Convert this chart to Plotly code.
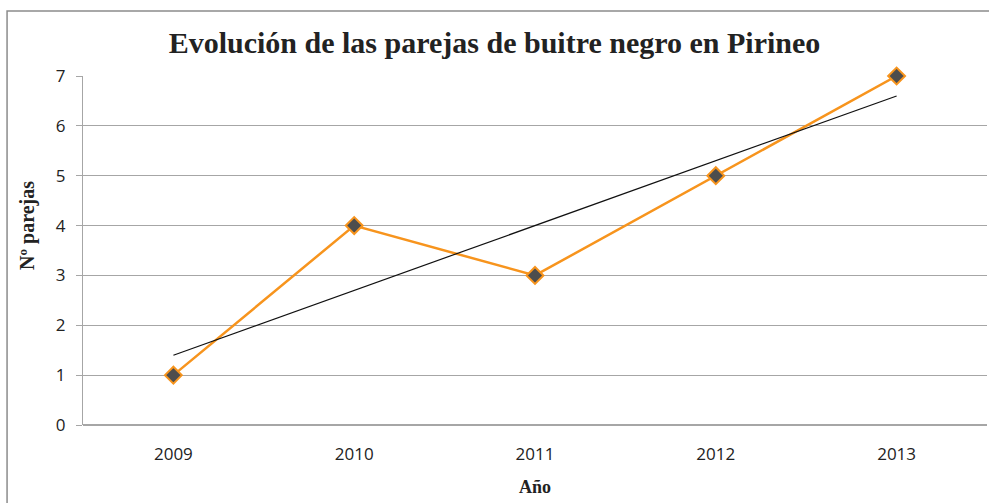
import plotly.graph_objects as go

anios = ['2009', '2010', '2011', '2012', '2013']
parejas = [1, 4, 3, 5, 7]
tendencia_x = ['2009', '2013']
tendencia_y = [1.4, 6.6]

serif = 'Liberation Serif, DejaVu Serif, serif'

fig = go.Figure()

fig.add_trace(go.Scatter(
    x=anios,
    y=parejas,
    mode='lines+markers',
    line=dict(color='#f7941d', width=2.5),
    marker=dict(symbol='diamond', size=13, color='#4d4d4d',
                line=dict(color='#f7941d', width=2)),
    cliponaxis=False,
    showlegend=False
))

fig.add_trace(go.Scatter(
    x=tendencia_x,
    y=tendencia_y,
    mode='lines',
    line=dict(color='#111111', width=1.2),
    showlegend=False
))

fig.update_layout(
    width=989,
    height=503,
    margin=dict(l=83, r=2, t=76, b=78),
    paper_bgcolor='#ffffff',
    plot_bgcolor='#ffffff',
    font=dict(family='Open Sans, Liberation Sans, sans-serif', size=17, color='#222222'),
    title=dict(
        text='<b>Evolución de las parejas de buitre negro en Pirineo</b>',
        font=dict(family=serif, size=30, color='#222222'),
        x=0.5, xanchor='center', y=0.915, yanchor='middle'
    ),
    xaxis=dict(
        type='category',
        range=[-0.5, 4.5],
        automargin=False,
        showgrid=False,
        showline=False,
        ticks='',
        ticklabelstandoff=17,
        tickfont=dict(size=17)
    ),
    yaxis=dict(
        range=[0, 7],
        dtick=1,
        automargin=False,
        showgrid=True,
        gridcolor='#a6a6a6',
        gridwidth=1,
        showline=True,
        linecolor='#a6a6a6',
        ticks='outside',
        ticklen=6,
        tickcolor='#a6a6a6',
        ticklabelstandoff=7,
        zeroline=True,
        zerolinecolor='#a6a6a6',
        tickfont=dict(size=17)
    ),
    annotations=[
        dict(text='<b>Nº parejas</b>', xref='paper', yref='paper',
             x=-0.062, y=0.573, textangle=-90, showarrow=False,
             xanchor='center', yanchor='middle',
             font=dict(family=serif, size=20, color='#222222')),
        dict(text='<b>Año</b>', xref='paper', yref='paper',
             x=0.5, y=-0.178, showarrow=False,
             xanchor='center', yanchor='middle',
             font=dict(family=serif, size=18, color='#222222'))
    ],
    shapes=[dict(
        type='rect', xref='paper', yref='paper',
        x0=-0.084, x1=1.2, y0=-0.4, y1=1.186,
        line=dict(color='#8c8c8c', width=1.5),
        fillcolor='rgba(0,0,0,0)', layer='below'
    )]
)

# quitar el margen por defecto del body para que el grafico ocupe la ventana
fig.write_html('out.html',
               config={'displayModeBar': False},
               post_script="document.body.style.margin='0';")
